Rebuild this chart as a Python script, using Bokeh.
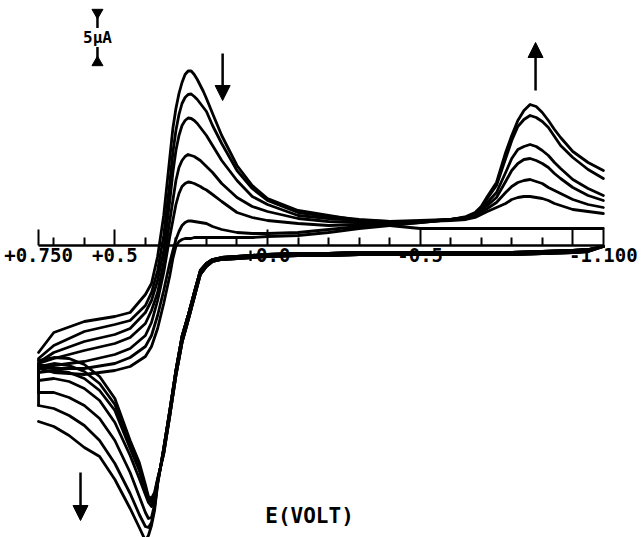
from bokeh.plotting import figure
from bokeh.models import Range1d, LinearAxis, FixedTicker, Arrow, NormalHead, Label
from bokeh.embed import file_html
from bokeh.resources import INLINE

# ---- cyclic voltammogram, 7 successive cycles (E in V, current in uA, cathodic up) ----

# potentials of the cathodic (negative-going) sweep
E_fwd = [0.75, 0.70, 0.60, 0.50, 0.45, 0.40, 0.38, 0.36, 0.34,
         0.32, 0.31, 0.30, 0.29, 0.28, 0.27, 0.26, 0.25, 0.24, 0.23, 0.22, 0.21, 0.20,
         0.18, 0.15, 0.10, 0.05, 0.0,
         -0.1, -0.2, -0.3, -0.4, -0.5, -0.6,
         -0.65, -0.68, -0.70, -0.72, -0.75,
         -0.78, -0.80, -0.82, -0.84, -0.86, -0.88,
         -0.90, -0.92, -0.94, -0.96,
         -1.00, -1.05, -1.10]

fwd_c1 = [-10.7, -8.7, -7.6, -7.1, -6.7, -4.9, -3.8, -1.1, 3.0,
          8.8, 11.7, 13.7, 15.2, 16.3, 17.1, 17.45, 17.45, 17.1, 16.6, 16.0, 15.4, 14.7,
          13.2, 11.0, 8.0, 6.0, 4.7,
          3.5, 3.0, 2.5, 2.0, 1.7, 1.7,
          1.7, 1.7, 1.7, 1.7, 1.7,
          1.7, 1.7, 1.7, 1.7, 1.7, 1.7,
          1.7, 1.7, 1.7, 1.7,
          1.7, 1.7, 1.7]
fwd_c2 = [-11.3, -10.0, -8.6, -7.9, -7.5, -6.0, -4.7, -2.5, 1.0,
          6.3, 9.3, 11.5, 13.1, 14.2, 14.8, 15.1, 15.15, 14.9, 14.6, 14.2, 13.8, 13.4,
          12.0, 10.2, 7.5, 5.7, 4.5,
          3.3, 2.9, 2.6, 2.4, 2.4, 2.5,
          2.6, 2.8, 3.1, 3.4, 3.8,
          4.2, 4.6, 4.8, 4.9, 4.9, 4.8,
          4.7, 4.5, 4.2, 4.0,
          3.6, 3.4, 3.2]
fwd_c3 = [-11.7, -10.7, -9.6, -8.9, -8.3, -6.7, -5.5, -3.5, -0.5,
          4.5, 7.3, 9.5, 11.0, 12.0, 12.5, 12.75, 12.7, 12.5, 12.2, 11.8, 11.4, 11.0,
          10.0, 8.5, 6.5, 4.9, 4.1,
          3.0, 2.7, 2.5, 2.4, 2.5, 2.6,
          2.7, 2.9, 3.3, 3.7, 4.3,
          5.3, 5.9, 6.3, 6.5, 6.6, 6.4,
          6.2, 5.8, 5.5, 5.2,
          4.6, 4.1, 3.8]
fwd_c4 = [-11.8, -11.3, -10.5, -9.8, -9.2, -7.8, -6.5, -4.7, -1.7,
          2.5, 4.5, 6.5, 7.8, 8.5, 8.9, 9.1, 9.0, 8.9, 8.7, 8.5, 8.2, 7.9,
          7.3, 6.2, 4.8, 3.9, 3.4,
          2.7, 2.4, 2.3, 2.3, 2.4, 2.6,
          2.7, 3.0, 3.5, 4.0, 4.8,
          6.4, 7.5, 8.2, 8.6, 8.7, 8.5,
          8.2, 7.8, 7.2, 6.7,
          5.8, 5.0, 4.5]
fwd_c5 = [-12.0, -12.0, -11.6, -10.9, -10.3, -9.0, -7.7, -5.5, -2.7,
          0.9, 2.5, 4.1, 5.2, 5.9, 6.2, 6.35, 6.3, 6.2, 6.05, 5.9, 5.7, 5.55,
          5.1, 4.4, 3.3, 2.8, 2.5,
          2.2, 2.0, 2.1, 2.2, 2.4, 2.6,
          2.8, 3.1, 3.6, 4.3, 5.3,
          7.3, 8.7, 9.6, 9.9, 10.1, 9.9,
          9.5, 9.0, 8.3, 7.7,
          6.6, 5.7, 5.0]
fwd_c6 = [-12.2, -12.3, -12.3, -11.8, -11.2, -10.1, -9.0, -7.0, -4.5,
          -1.7, -0.5, 0.6, 1.4, 2.0, 2.3, 2.45, 2.45, 2.4, 2.35, 2.3, 2.25, 2.2,
          1.9, 1.6, 1.3, 1.2, 1.2,
          1.3, 1.6, 1.9, 2.1, 2.3, 2.6,
          2.8, 3.2, 3.8, 4.7, 6.0,
          8.7, 10.5, 11.9, 12.6, 13.0, 12.8,
          12.4, 11.8, 10.9, 10.0,
          8.8, 7.6, 6.7]
fwd_c7 = [-12.3, -12.7, -12.9, -12.5, -12.1, -11.1, -10.1, -8.3, -5.8,
          -3.0, -1.3, -0.1, 0.4, 0.6, 0.7, 0.7, 0.7, 0.8, 0.8, 0.8, 0.8, 0.8,
          0.8, 0.8, 0.8, 0.8, 0.9,
          1.0, 1.3, 1.7, 2.0, 2.3, 2.6,
          2.9, 3.3, 3.9, 4.9, 6.3,
          9.3, 11.0, 12.5, 13.5, 14.1, 13.9,
          13.3, 12.5, 11.6, 10.8,
          9.4, 8.3, 7.5]

# anodic (positive-going) sweep: the part shared by all cycles
E_ret = [-1.10, -1.05, -1.00, -0.90, -0.80, -0.70, -0.60, -0.50, -0.40, -0.30,
         -0.20, -0.10, 0.0, 0.05, 0.10, 0.15, 0.18, 0.20, 0.22, 0.24,
         0.26, 0.28, 0.30, 0.32, 0.34, 0.35]
ret_a = [-0.1, -0.4, -0.5, -0.6, -0.7, -0.7, -0.7, -0.7, -0.7, -0.7,
         -0.8, -0.8, -0.9, -1.0, -1.1, -1.2, -1.4, -1.8, -2.5, -4.7,
         -7.0, -9.1, -12.5, -16.5, -20.3, -22.1]
ret_b = [-0.1, -0.6, -0.7, -0.8, -0.9, -0.9, -0.9, -0.9, -0.9, -0.9,
         -1.0, -1.0, -1.1, -1.2, -1.3, -1.4, -1.6, -2.1, -2.9, -5.2,
         -7.5, -9.7, -13.0, -17.0, -20.8, -22.1]

# anodic sweep: oxidation peak and tail up to the switching potential
E_tail = [0.35, 0.36, 0.37, 0.38, 0.39, 0.40, 0.42, 0.45, 0.50, 0.55,
          0.60, 0.65, 0.70, 0.75]
tail_c1 = [-22.1, -23.3, -24.7, -25.3, -25.1, -23.9, -21.7, -19.5, -15.3, -13.1, -11.9, -11.3, -11.2, -11.5]
tail_c2 = [-22.1, -23.4, -24.9, -25.5, -25.3, -24.2, -22.1, -19.9, -15.9, -13.8, -12.6, -12.0, -11.8, -12.1]
tail_c3 = [-22.1, -23.5, -25.1, -25.7, -25.4, -24.5, -22.5, -20.3, -16.5, -14.5, -13.3, -12.7, -12.5, -12.7]
tail_c4 = [-22.1, -23.6, -25.5, -26.1, -25.7, -24.9, -23.3, -21.0, -17.7, -15.5, -14.3, -13.6, -13.3, -13.5]
tail_c5 = [-22.1, -23.7, -25.9, -27.2, -27.3, -26.7, -25.1, -22.7, -19.5, -17.3, -16.0, -15.2, -14.7, -14.7]
tail_c6 = [-22.1, -23.8, -26.2, -27.7, -28.2, -28.1, -26.9, -24.8, -21.8, -19.5, -18.0, -17.0, -16.3, -16.0]
tail_c7 = [-22.1, -23.9, -26.5, -28.0, -29.0, -29.5, -28.2, -26.3, -23.4, -21.1, -20.2, -19.0, -18.1, -17.6]

# potential axis
tick_pos = [0.75, 0.5, 0.0, -0.5, -1.0, -1.1]
tick_labels = ["+0.750", "+0.5", "+0.0", "-0.5", "", "-1.100"]
minor_pos = [0.7, 0.6, 0.4, 0.3, 0.2, 0.1, -0.1, -0.2, -0.3, -0.4,
             -0.6, -0.7, -0.8, -0.9]

SCALE_UA = 5.0

fwd_cycles = [fwd_c1, fwd_c2, fwd_c3, fwd_c4, fwd_c5, fwd_c6, fwd_c7]
tails = [tail_c1, tail_c2, tail_c3, tail_c4, tail_c5, tail_c6, tail_c7]
commons = [ret_a, ret_b, ret_a, ret_b, ret_a, ret_b, ret_a]

xs, ys = [], []
for k, fwd in enumerate(fwd_cycles):
    if k == 0:
        xs.append(list(E_fwd))
        ys.append(list(fwd))
    else:
        # sweep starts where the previous cycle ended at the switching potential
        xs.append([E_tail[-1]] + E_fwd)
        ys.append([tails[k - 1][-1]] + fwd)
    xs.append(E_ret + E_tail[1:])
    ys.append(commons[k] + tails[k][1:])

p = figure(width=641, height=537,
           x_range=Range1d(0.8746, -1.2250), y_range=Range1d(-29.2, 24.5),
           output_backend="svg", toolbar_location=None,
           x_axis_type=None, y_axis_type=None, min_border=0,
           background_fill_color="white", border_fill_color="white")
p.outline_line_color = None

MONO = "DejaVu Sans Mono"

ax = LinearAxis(fixed_location=0, bounds=(-1.1, 0.75),
                ticker=FixedTicker(ticks=tick_pos, minor_ticks=minor_pos),
                major_label_overrides=dict(zip(tick_pos, tick_labels)))
ax.level = "underlay"
ax.axis_line_width = 2.5
ax.axis_line_color = "black"
ax.major_tick_in = 16
ax.major_tick_out = 0
ax.minor_tick_in = 8
ax.minor_tick_out = 0
ax.major_tick_line_width = 2
ax.minor_tick_line_width = 2
ax.major_label_standoff = 2
ax.major_label_text_font = MONO
ax.major_label_text_font_style = "bold"
ax.major_label_text_font_size = "19px"
ax.major_label_text_color = "black"
p.add_layout(ax, "below")

p.multi_line(xs, ys, line_color="black", line_width=2.8,
             line_join="round", line_cap="round")

# direction-of-change arrows
for x0, y0, y1 in [(0.147, 19.2, 14.5), (-0.878, 15.5, 20.3), (0.6125, -22.7, -27.5)]:
    p.add_layout(Arrow(end=NormalHead(size=15, fill_color="black", line_color="black"),
                       x_start=x0, y_start=y0, x_end=x0, y_end=y1,
                       line_width=2.5, line_color="black"))

# current scale bar
bar_x, bar_top = 0.557, 23.3
p.segment(x0=[bar_x], y0=[bar_top], x1=[bar_x], y1=[bar_top - SCALE_UA],
          line_color="black", line_width=2.5)
p.scatter(x=[bar_x], y=[bar_top], marker="inverted_triangle", size=11,
          fill_color="black", line_color="black")
p.scatter(x=[bar_x], y=[bar_top - SCALE_UA], marker="triangle", size=11,
          fill_color="black", line_color="black")
p.add_layout(Label(x=bar_x, y=bar_top - SCALE_UA / 2, text="5µA",
                   text_align="center", text_baseline="middle",
                   text_font=MONO, text_font_style="bold", text_font_size="16px",
                   background_fill_color="white", text_color="black"))

p.add_layout(Label(x=-0.1376, y=-27.0, text="E(VOLT)",
                   text_align="center", text_baseline="middle",
                   text_font=MONO, text_font_style="bold", text_font_size="21px",
                   text_color="black"))

open("out.html", "w").write(file_html(p, INLINE))
